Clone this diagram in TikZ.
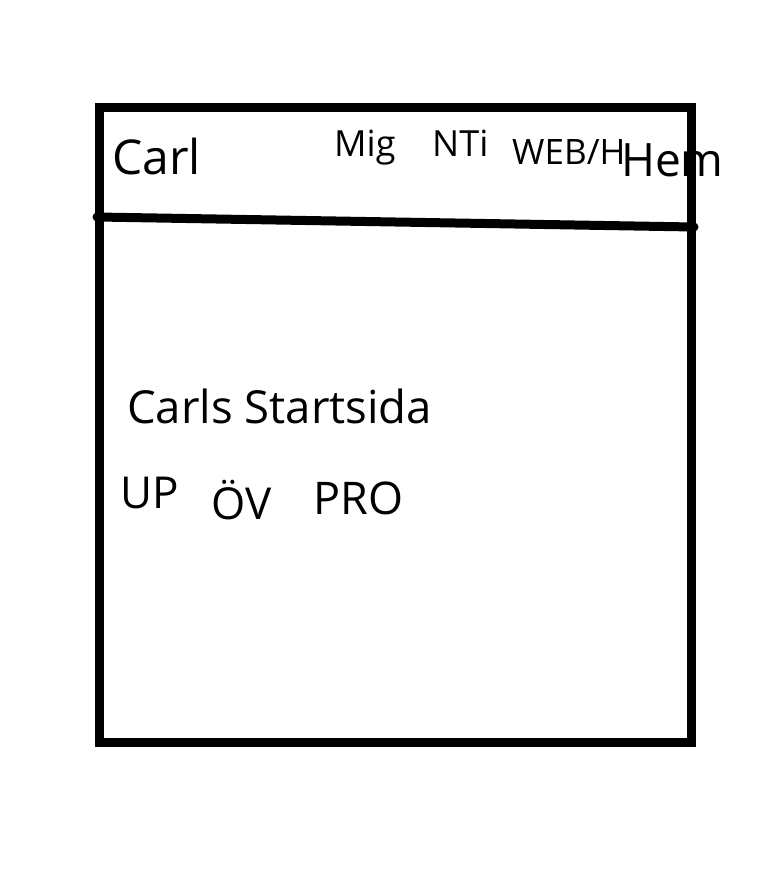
\documentclass[tikz,border=0pt]{standalone}
\usepackage{fontspec}
\setmainfont{Open Sans}
\tikzset{
  frame/.style={line width=9pt, line cap=rect},
  divider/.style={line width=9pt, line cap=round},
  lbl/.style={anchor=base west, inner sep=0pt, font=\fontsize{#1}{#1}\selectfont},
}
\begin{document}
\begin{tikzpicture}[x=1pt,y=-1pt]
\useasboundingbox (0,0) rectangle (762,888);
\coordinate (tl) at (99,108);
\coordinate (br) at (691,742);
\draw[frame] (tl) rectangle (br);
\coordinate (dl) at (97,217);
\coordinate (dr) at (694,227);
\draw[divider] (dl) -- (dr);
\node[lbl=48] (carl) at (112,174) {Carl};
\node[lbl=36] (mig) at (334,157) {Mig};
\node[lbl=36] (nti) at (432,157) {NTi};
\node[lbl=35] (web) at (512,164) {WEB/H};
\node[lbl=46] (hem) at (621,176) {Hem};
\node[lbl=45.5] (start) at (127,423) {Carls Startsida};
\node[lbl=44] (up) at (120,508) {UP};
\node[lbl=44] (ov) at (211,519) {ÖV};
\node[lbl=45] (pro) at (313,514) {PRO};
\end{tikzpicture}
\end{document}
